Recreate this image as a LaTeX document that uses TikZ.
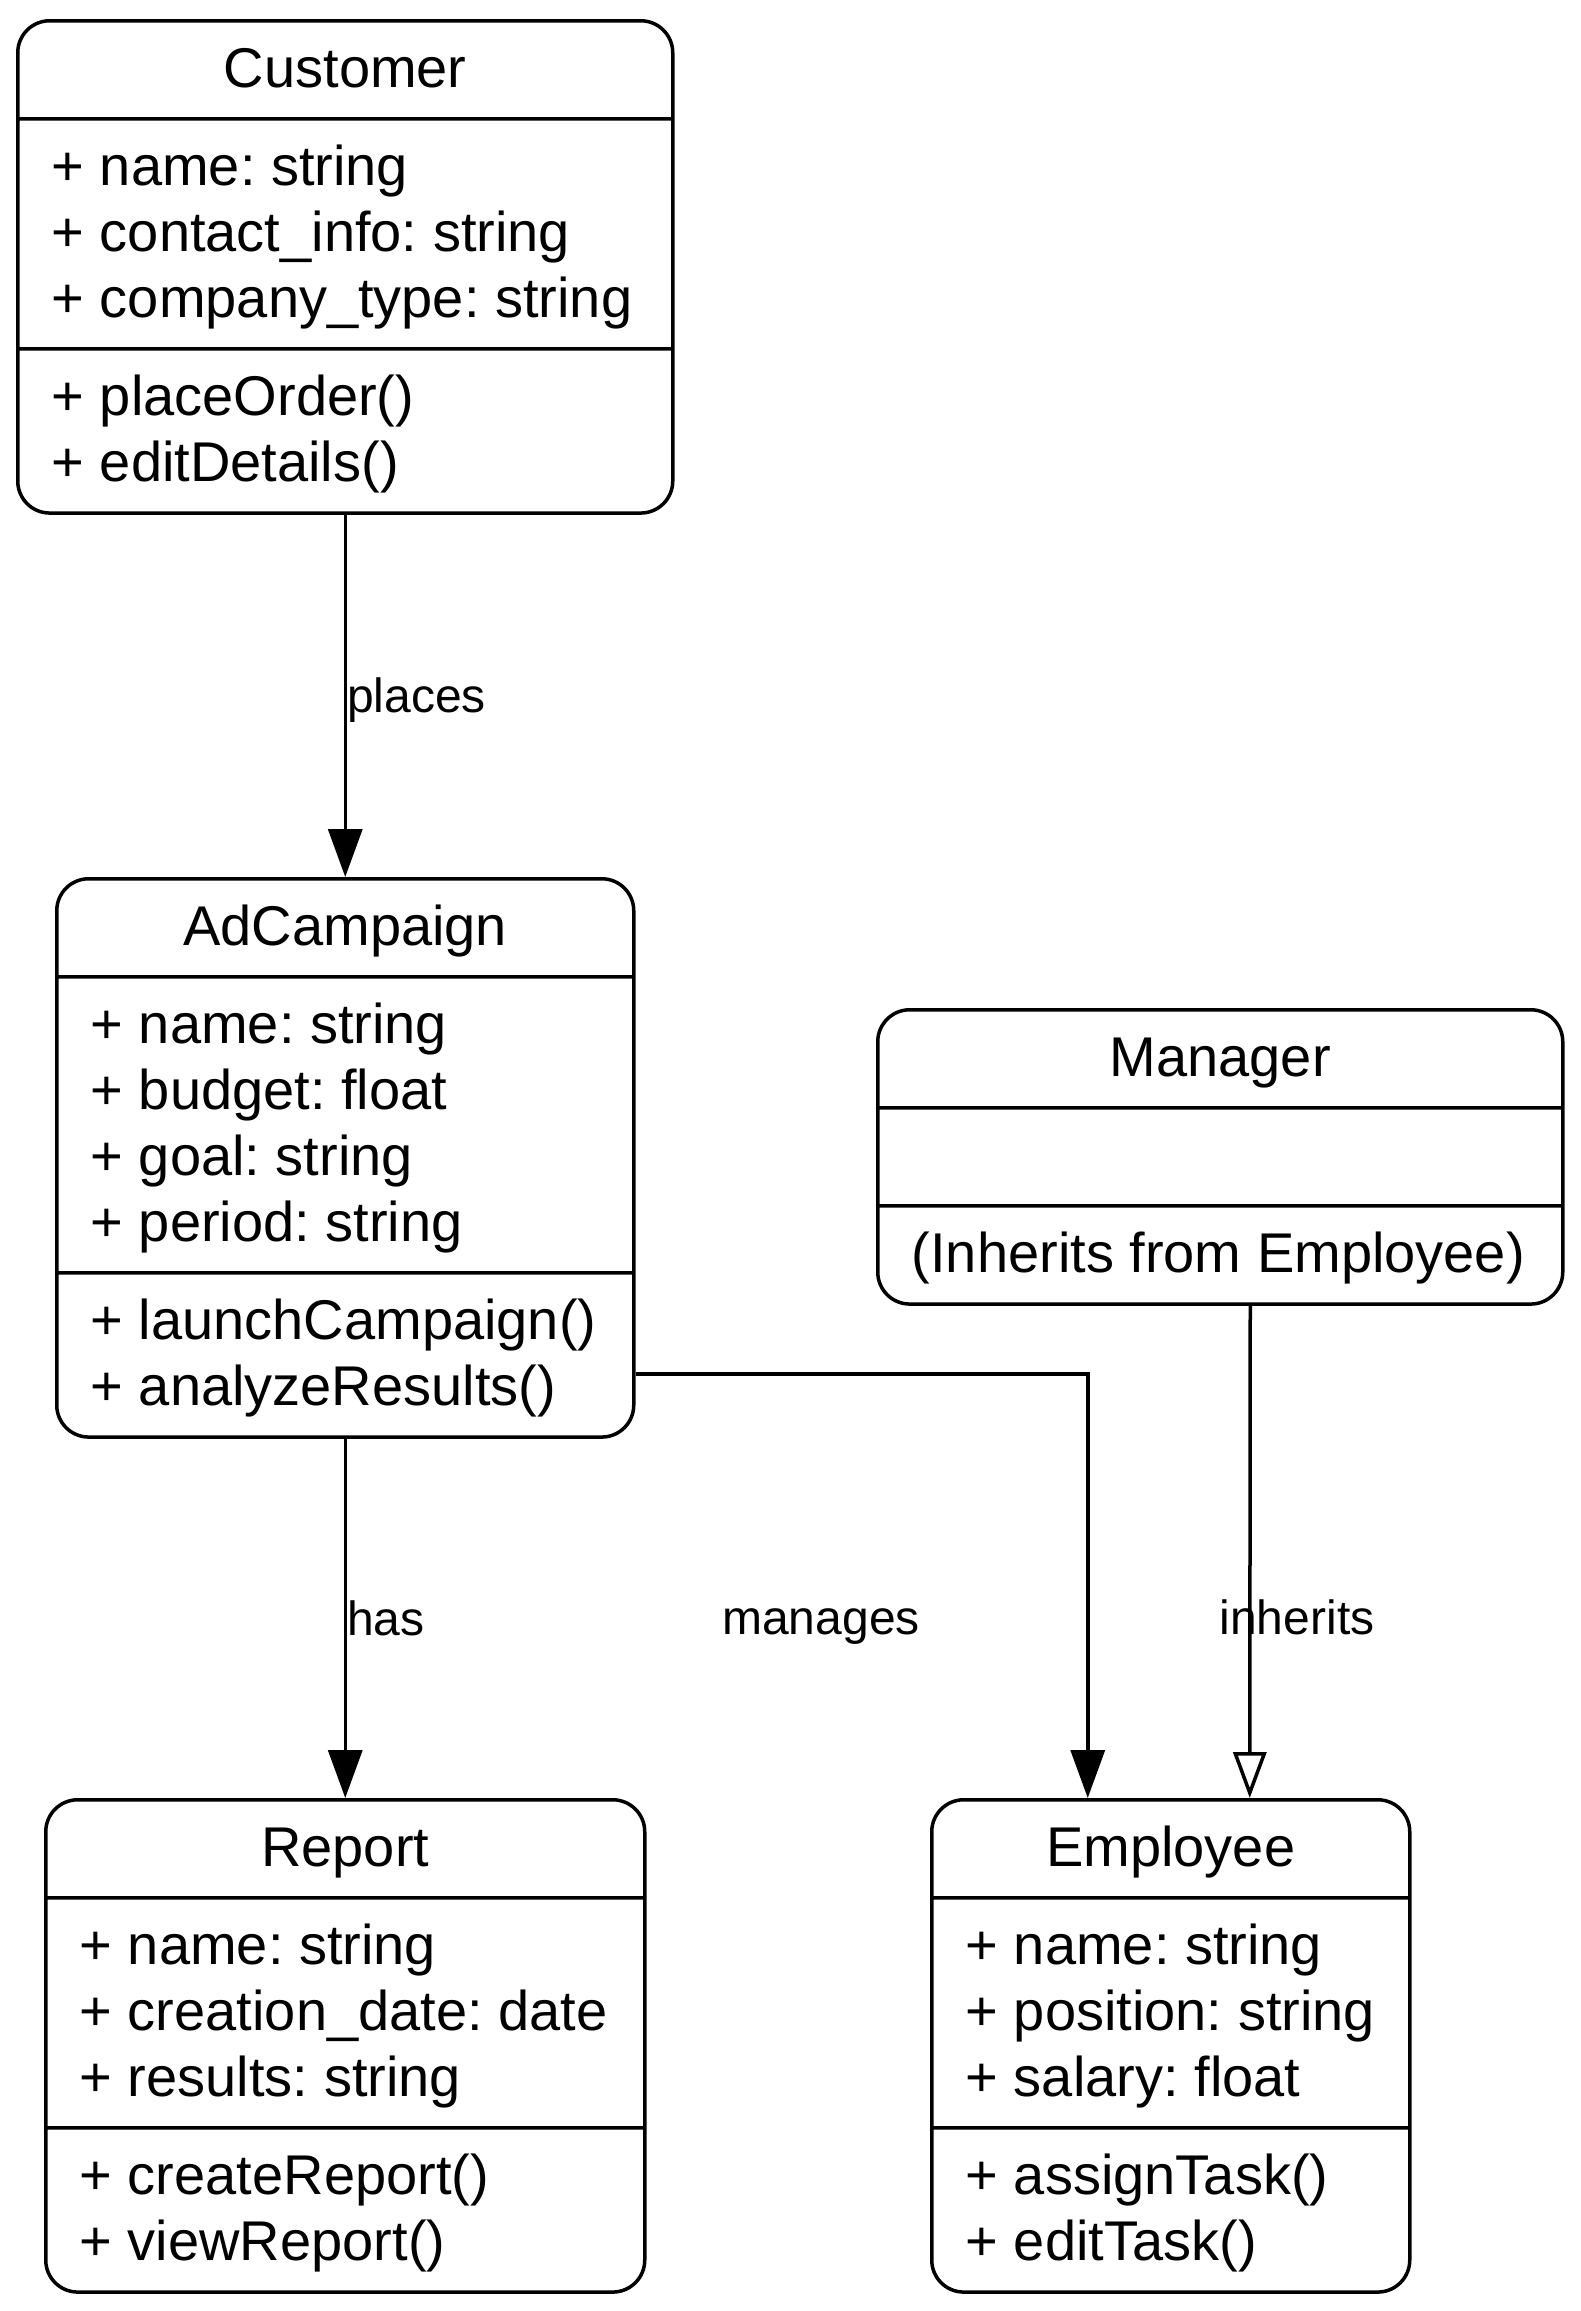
\documentclass[tikz,border=0pt]{standalone}
\usepackage{fontspec}
\setmainfont{Liberation Sans}
\frenchspacing
\usetikzlibrary{shapes.multipart,arrows.meta}

\newcommand{\rows}[1]{\begin{tabular}{@{}l@{}}#1\end{tabular}}
\newcommand{\classfont}{\fontsize{56}{66}\selectfont
  \setbox\strutbox\hbox{\vrule height 50.7pt depth 15.3pt width 0pt}}

\begin{document}
\begin{tikzpicture}[
    x=1pt, y=-1pt,
    umlclass/.style={rectangle split, rectangle split parts=3,
      rectangle split part align={center,left,left},
      draw, line width=3.5pt, rounded corners=32pt,
      inner xsep=34pt, inner ysep=14.3pt, anchor=north west,
      font=\classfont},
    assoc/.style={line width=3.5pt, -{Triangle[width=34pt,length=48pt]}},
    inherit/.style={line width=3.5pt, -{Triangle[open,width=33pt,length=46pt]}},
    lbl/.style={font=\fontsize{48}{58}\selectfont, inner sep=0pt,
      text height=34pt, text depth=0pt, anchor=west}
  ]
  \useasboundingbox (0,0) rectangle (1580,2311);

  % classes
  \node[umlclass, minimum width=655pt] (customer) at (16,19) {\strut Customer
    \nodepart{two}\rows{+ name: string\\+ contact\_info: string\\+ company\_type: string}
    \nodepart{three}\rows{+ placeOrder()\\+ editDetails()}};
  \node[umlclass, minimum width=577pt] (adcampaign) at (55,877) {\strut AdCampaign
    \nodepart{two}\rows{+ name: string\\+ budget: float\\+ goal: string\\+ period: string}
    \nodepart{three}\rows{+ launchCampaign()\\+ analyzeResults()}};
  \node[umlclass, minimum width=685pt] (manager) at (876,1008) {\strut Manager
    \nodepart{two}\strut
    \nodepart{three}\rows{(Inherits from Employee)}};
  \node[umlclass, minimum width=599pt] (report) at (44,1798) {\strut Report
    \nodepart{two}\rows{+ name: string\\+ creation\_date: date\\+ results: string}
    \nodepart{three}\rows{+ createReport()\\+ viewReport()}};
  \node[umlclass, minimum width=478pt] (employee) at (930,1798) {\strut Employee
    \nodepart{two}\rows{+ name: string\\+ position: string\\+ salary: float}
    \nodepart{three}\rows{+ assignTask()\\+ editTask()}};

  % relations
  \draw[assoc] (customer.south) -- node[lbl] (lblplaces) {places} (adcampaign.north);
  \draw[assoc] (adcampaign.south) -- node[lbl] (lblhas) {has} (report.north);
  \draw[assoc] (adcampaign.south east) ++(0,-65) -| ([xshift=-83pt]employee.north);
  \draw[inherit] ([xshift=30pt]manager.south) -- ([xshift=79pt]employee.north);
  \node[lbl, anchor=center] (lblmanages) at (821,1617) {manages};
  \node[lbl, anchor=center] (lblinherits) at (1297,1617) {inherits};
\end{tikzpicture}
\end{document}
